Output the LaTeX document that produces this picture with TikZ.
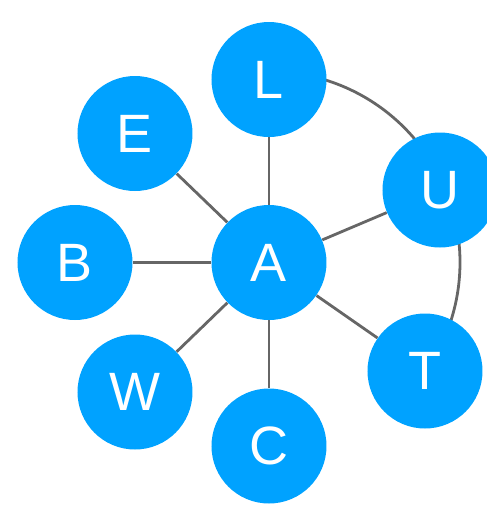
\documentclass[tikz,border=0pt]{standalone}
\usepackage{fontspec}
\setmainfont{Liberation Sans}
\usetikzlibrary{backgrounds}
\definecolor{nodeblue}{HTML}{00A2FF}
\definecolor{edgegray}{HTML}{666666}
\tikzset{
  vert/.style={circle, fill=nodeblue, draw=none, minimum size=57.5pt, inner sep=0pt,
    text=white, font=\fontsize{27}{27}\selectfont},
  edge/.style={draw=edgegray, line width=1.4pt}
}
\begin{document}
\begin{tikzpicture}[x=0.5pt, y=-0.5pt]
\useasboundingbox (0,0) rectangle (487,505);
\node[vert] (A) at (269,262.5) {A};
\node[vert] (L) at (269,79.5) {L};
\node[vert] (E) at (135,133.5) {E};
\node[vert] (B) at (75,262.5) {B};
\node[vert] (W) at (135,392) {W};
\node[vert] (C) at (269,446) {C};
\node[vert] (T) at (425,371) {T};
\node[vert] (U) at (440,190) {U};
\begin{scope}[on background layer]
  \draw[edge] (A) -- (L);
  \draw[edge] (A) -- (E);
  \draw[edge] (A) -- (B);
  \draw[edge] (A) -- (W);
  \draw[edge] (A) -- (C);
  \draw[edge] (A) -- (T);
  \draw[edge] (A) -- (U);
  \draw[edge] (A.center) ++(85:95.5pt) arc[start angle=85, end angle=-38, radius=95.5pt];
\end{scope}
\end{tikzpicture}
\end{document}
